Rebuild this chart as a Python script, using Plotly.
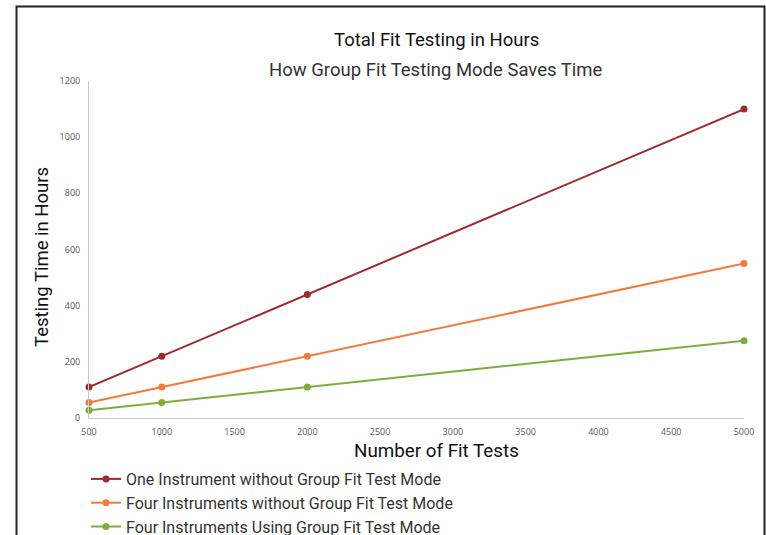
import plotly.graph_objects as go

fit_tests = [500, 1000, 2000, 5000]
one_instrument = [110, 220, 440, 1100]
four_instruments = [55, 110, 220, 550]
four_group = [27.5, 55, 110, 275]

series_names = [
    "One Instrument without Group Fit Test Mode",
    "Four Instruments without Group Fit Test Mode",
    "Four Instruments Using Group Fit Test Mode",
]
series_values = [one_instrument, four_instruments, four_group]
colors = ["#9E2B2E", "#F47A3C", "#7DAD3C"]

x_ticks = [500, 1000, 1500, 2000, 2500, 3000, 3500, 4000, 4500, 5000]
y_ticks = [0, 200, 400, 600, 800, 1000, 1200]

fig = go.Figure()
for i, (name, vals, c) in enumerate(zip(series_names, series_values, colors)):
    fig.add_trace(go.Scatter(
        x=fit_tests, y=vals, name=name, mode="lines+markers",
        line=dict(color=c, width=2), marker=dict(color=c, size=7),
        cliponaxis=False,
    ))

W, H = 766, 535
L, R, T, B = 89, 22, 81, 117
pw, ph = W - L - R, H - T - B

def px(xp):
    return (xp - L) / pw

def py(yp):
    return (H - B - yp) / ph

fig.update_layout(
    width=W, height=H,
    margin=dict(l=L, r=R, t=T, b=B, autoexpand=False),
    paper_bgcolor="white", plot_bgcolor="white",
    font=dict(family="Roboto", color="#222"),
    showlegend=True,
    legend=dict(
        x=px(86), y=py(462), xanchor="left", yanchor="top",
        font=dict(size=16, color="#333", family="Roboto"),
        traceorder="normal", tracegroupgap=0,
        bgcolor="rgba(0,0,0,0)",
    ),
    xaxis=dict(
        range=[500, 5000], tickvals=x_ticks, ticktext=[str(v) for v in x_ticks],
        showgrid=False, zeroline=False, showline=True, linecolor="#C8C8C8", linewidth=1,
        ticks="", ticklabelstandoff=5,
        tickfont=dict(family="Open Sans", size=9, color="#595959"),
    ),
    yaxis=dict(
        range=[0, 1200], tickvals=y_ticks, ticktext=[str(v) for v in y_ticks],
        showgrid=False, zeroline=False, showline=True, linecolor="#C8C8C8", linewidth=1,
        ticks="", ticklabelstandoff=6,
        tickfont=dict(family="Open Sans", size=9, color="#595959"),
    ),
    annotations=[
        dict(text="Total Fit Testing in Hours", xref="paper", yref="paper",
             x=px(436), y=py(40), showarrow=False, xanchor="center", yanchor="middle",
             font=dict(size=18.5, color="#111", family="Roboto")),
        dict(text="How Group Fit Testing Mode Saves Time", xref="paper", yref="paper",
             x=px(436), y=py(70), showarrow=False, xanchor="center", yanchor="middle",
             font=dict(size=18.5, color="#333", family="Roboto")),
        dict(text="Testing Time in Hours", xref="paper", yref="paper",
             x=px(42), y=py(257), showarrow=False, textangle=-90,
             xanchor="center", yanchor="middle",
             font=dict(size=18.5, color="#111", family="Roboto")),
        dict(text="Number of Fit Tests", xref="paper", yref="paper",
             x=px(436), y=py(451), showarrow=False,
             xanchor="center", yanchor="middle",
             font=dict(size=18.8, color="#111", family="Roboto")),
    ],
    shapes=[
        dict(type="rect", xref="paper", yref="paper",
             x0=px(16.5), x1=px(764.5), y0=py(560), y1=py(6.5),
             line=dict(color="#222", width=2), fillcolor="rgba(0,0,0,0)", layer="above"),
    ],
)

fig.write_html("out.html", config={"displayModeBar": False},
               post_script="document.body.style.margin='0';document.body.style.overflow='hidden';")
